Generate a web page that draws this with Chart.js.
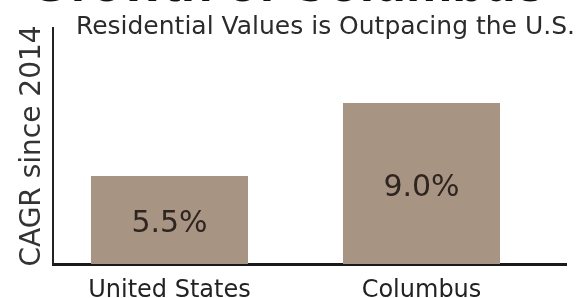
<!DOCTYPE html>
<html>
<head>
<meta charset="utf-8">
<script src="https://cdn.jsdelivr.net/npm/chart.js@4/dist/chart.umd.min.js"></script>
<style>
  html, body { margin: 0; padding: 0; background: #fff; overflow: hidden; }
  #wrap { position: relative; width: 578px; height: 298px; overflow: hidden; }
  #growthChart { position: absolute; left: 0; top: -45px; }
</style>
</head>
<body>
<div id="wrap"><canvas id="growthChart" width="578" height="360"></canvas></div>
<script>
const categories = ['United States', 'Columbus'];
const cagrValues = [5.5, 9.0];
const chartTitle = 'Growth of Columbus';
const chartSubtitle = 'Residential Values is Outpacing the U.S.';
const yAxisTitle = 'CAGR since 2014';

const barColor = '#a89483';

// value labels in the middle of each bar
const barLabels = {
  id: 'barLabels',
  afterDatasetsDraw(chart) {
    const ctx = chart.ctx;
    const area = chart.chartArea;
    const meta = chart.getDatasetMeta(0);
    ctx.save();
    ctx.font = '30px "DejaVu Sans"';
    ctx.fillStyle = '#2e2520';
    ctx.textAlign = 'center';
    ctx.textBaseline = 'middle';
    meta.data.forEach((bar, i) => {
      const bottom = Math.min(bar.base, area.bottom);
      ctx.fillText(cagrValues[i].toFixed(1) + '%', bar.x, (bar.y + bottom) / 2 + 4.5);
    });
    ctx.restore();
  }
};

const ctx = document.getElementById('growthChart').getContext('2d');

new Chart(ctx, {
  type: 'bar',
  data: {
    datasets: [{
      data: categories.map((c, i) => ({ x: i, y: cagrValues[i] })),
      backgroundColor: barColor,
      borderWidth: 0,
      categoryPercentage: 1,
      barPercentage: 0.623,
      clip: 0
    }]
  },
  options: {
    responsive: false,
    animation: false,
    layout: { padding: { left: 0, right: 3, top: 0, bottom: 0 } },
    plugins: {
      legend: { display: false },
      tooltip: { enabled: false },
      title: {
        display: true,
        text: chartTitle,
        color: '#111',
        font: { family: '"Liberation Sans", Arial, sans-serif', size: 52, weight: 'bold', lineHeight: 1 },
        padding: { top: 6, bottom: 0 }
      },
      subtitle: {
        display: true,
        text: chartSubtitle,
        align: 'end',
        color: '#2b2b2b',
        font: { family: '"DejaVu Sans", sans-serif', size: 25, lineHeight: 1 },
        padding: { top: 1.5, bottom: -11.5 }
      }
    },
    scales: {
      x: {
        type: 'linear',
        bounds: 'data',
        offset: false,
        min: -0.4623,
        max: 1.5734,
        z: 1,
        grid: { display: false, drawTicks: false, offset: false },
        border: { display: true, color: '#1a1a1a', width: 3 },
        afterBuildTicks: (scale) => {
          scale.ticks = categories.map((c, i) => ({ value: i }));
        },
        afterFit: (scale) => { scale.height = 360 - 309; },
        ticks: {
          color: '#222',
          padding: 15,
          font: { family: '"DejaVu Sans", sans-serif', size: 24, lineHeight: 1 },
          callback: (value) => categories[value] ?? ''
        }
      },
      y: {
        bounds: 'data',
        min: 1.281,
        max: 12.596,
        grid: { display: false, drawTicks: false },
        border: { display: true, color: '#222', width: 2 },
        ticks: { display: false },
        afterFit: (scale) => { scale.width = 53; },
        title: {
          display: true,
          text: yAxisTitle,
          color: '#333',
          font: { family: '"DejaVu Sans", sans-serif', size: 28, lineHeight: 1 },
          padding: { top: 19, bottom: 0 }
        }
      },
      y2: {
        position: 'right',
        display: true,
        grid: { display: false, drawTicks: false },
        border: { display: false },
        ticks: { display: false },
        afterFit: (scale) => { scale.width = 9; }
      }
    }
  },
  plugins: [barLabels]
});
</script>
</body>
</html>
